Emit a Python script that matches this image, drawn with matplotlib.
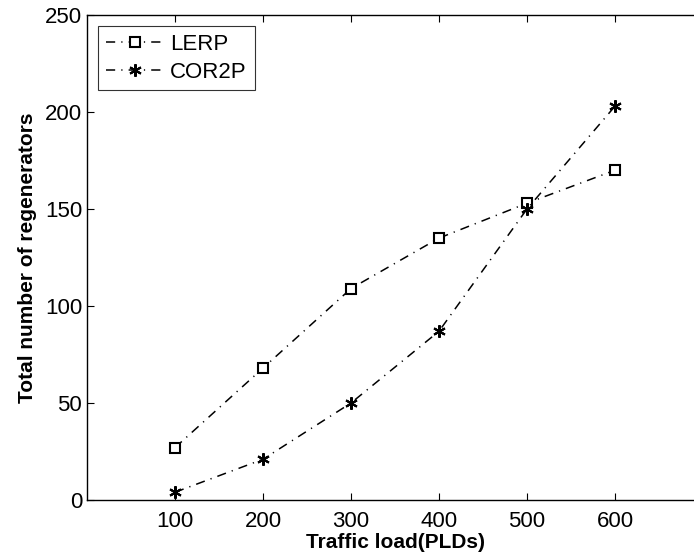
import matplotlib
matplotlib.use("Agg")
import matplotlib.pyplot as plt

# data
load = [100, 200, 300, 400, 500, 600]
lerp = [27, 68, 109, 135, 153, 170]
cor2p = [4, 21, 50, 87, 150, 203]

plt.rcParams['font.family'] = ['Liberation Sans', 'DejaVu Sans']

W, H = 694, 556
fig = plt.figure(figsize=(W / 100, H / 100), dpi=100)
# axes runs past the right edge of the figure, like the original
ax = fig.add_axes([87 / W, 56 / H, 616 / W, 485 / H])

dash = (6, 4, 0.8, 4)
ax.plot(load, lerp, color='black', lw=1.1, dashes=dash, marker='s',
        markersize=7, markerfacecolor='white', markeredgewidth=1.5, label='LERP')
ax.plot(load, cor2p, color='black', lw=1.1, dashes=dash, marker=(6, 2, 0),
        markersize=9, markeredgewidth=1.5, label='COR2P')

ax.set_xlim(0, 700)
ax.set_ylim(0, 250)
ax.set_xticks(load)
ax.set_yticks([0, 50, 100, 150, 200, 250])
ax.tick_params(direction='in', length=5, labelsize=16, top=True, right=True, width=0.8)
ax.tick_params(axis='x', pad=8)
for s in ax.spines.values():
    s.set_linewidth(1.0)

ax.set_xlabel('Traffic load(PLDs)', fontsize=15, fontweight='bold', labelpad=1)
ax.set_ylabel('Total number of regenerators', fontsize=15, fontweight='bold', labelpad=6)

leg = ax.legend(loc='upper left', fontsize=16, frameon=True, fancybox=False,
                edgecolor='black', handlelength=2.6, borderpad=0.35,
                labelspacing=0.3, handletextpad=0.3, borderaxespad=0.5)
leg.get_frame().set_linewidth(0.8)

fig.savefig('out.png', dpi=100)
